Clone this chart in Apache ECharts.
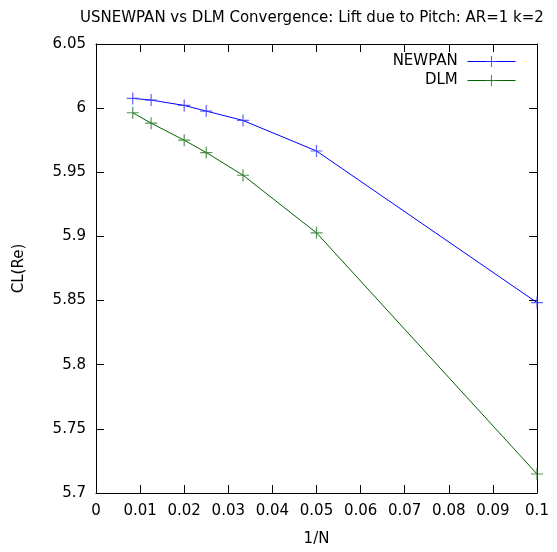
<!DOCTYPE html>
<html>
<head>
<meta charset="utf-8">
<script src="https://cdn.jsdelivr.net/npm/echarts@6/dist/echarts.min.js"></script>
<style>html,body{margin:0;padding:0;background:#fff}#c{width:557px;height:552px}</style>
</head>
<body>
<div id="c"></div>
<script>
const titleText = 'USNEWPAN vs DLM Convergence: Lift due to Pitch: AR=1 k=2';
const invN = [1/120, 1/80, 1/50, 1/40, 1/30, 1/20, 1/10];
const newpanCL = [6.0076, 6.0063, 6.0021, 5.9977, 5.9904, 5.9666, 5.8484];
const dlmCL = [5.9964, 5.9883, 5.9750, 5.9654, 5.9477, 5.9028, 5.7148];
const seriesNames = ['NEWPAN', 'DLM'];
const xTickLabels = ['0','0.01','0.02','0.03','0.04','0.05','0.06','0.07','0.08','0.09','0.1'];
const yTickLabels = ['5.7','5.75','5.8','5.85','5.9','5.95','6','6.05'];

const FONT = 'DejaVu Sans';
const FS = 15;
const plus = 'path://M-0.6,-6L0.6,-6L0.6,6L-0.6,6ZM-6,-0.6L6,-0.6L6,0.6L-6,0.6Z';
const chart = echarts.init(document.getElementById('c'), null, {renderer: 'canvas'});
const pair = (xs, ys) => xs.map((x, i) => [x, ys[i]]);
const xFmt = v => { const i = Math.round(v / 0.01); return xTickLabels[i] ?? ''; };
const yFmt = v => { const i = Math.round((v - 5.7) / 0.05); return yTickLabels[i] ?? ''; };
const axisCommon = {
  axisLine: {show: true, onZero: false, lineStyle: {color: '#000', width: 1}},
  axisTick: {show: true, inside: true, length: 8, lineStyle: {color: '#000', width: 1}},
  splitLine: {show: false}
};
chart.setOption({
  animation: false,
  backgroundColor: '#fff',
  title: {
    text: titleText, left: 75, top: 6,
    textStyle: {fontFamily: FONT, fontSize: FS, fontWeight: 'normal', color: '#000'}
  },
  legend: {
    orient: 'vertical', right: 41, top: 54, align: 'right', padding: 0,
    itemWidth: 48, itemHeight: 14, itemGap: 4,
    formatter: n => n + ' ',
    lineStyle: {width: 1},
    textStyle: {fontFamily: FONT, fontSize: FS, color: '#000'},
    data: seriesNames
  },
  grid: {left: 96, right: 20, top: 44, bottom: 59, containLabel: false},
  xAxis: [
    Object.assign({type: 'value', min: 0, max: 0.1, interval: 0.01, position: 'bottom',
      name: '1/N', nameLocation: 'middle', nameGap: 39,
      nameTextStyle: {fontFamily: FONT, fontSize: FS, color: '#000'},
      axisLabel: {formatter: xFmt, fontFamily: FONT, fontSize: FS, color: '#000', margin: 11}}, axisCommon),
    Object.assign({type: 'value', min: 0, max: 0.1, interval: 0.01, position: 'top',
      axisLabel: {show: false}}, axisCommon)
  ],
  yAxis: [
    Object.assign({type: 'value', min: 5.7, max: 6.05, interval: 0.05, position: 'left',
      name: 'CL(Re)', nameLocation: 'middle', nameGap: 69, nameRotate: 90,
      nameTextStyle: {fontFamily: FONT, fontSize: FS, color: '#000'},
      axisLabel: {formatter: yFmt, fontFamily: FONT, fontSize: FS, color: '#000', margin: 10}}, axisCommon),
    Object.assign({type: 'value', min: 5.7, max: 6.05, interval: 0.05, position: 'right',
      axisLabel: {show: false}}, axisCommon)
  ],
  series: [
    {name: seriesNames[0], type: 'line', data: pair(invN, newpanCL), symbol: plus, symbolSize: 12,
      showAllSymbol: true, clip: false,
      lineStyle: {color: '#0000ff', width: 1}, itemStyle: {color: '#3a3aff', opacity: 0.8}},
    {name: seriesNames[1], type: 'line', data: pair(invN, dlmCL), symbol: plus, symbolSize: 12,
      showAllSymbol: true, clip: false,
      lineStyle: {color: '#006400', width: 1}, itemStyle: {color: '#2a7a2a', opacity: 0.8}}
  ]
});
</script>
</body>
</html>
